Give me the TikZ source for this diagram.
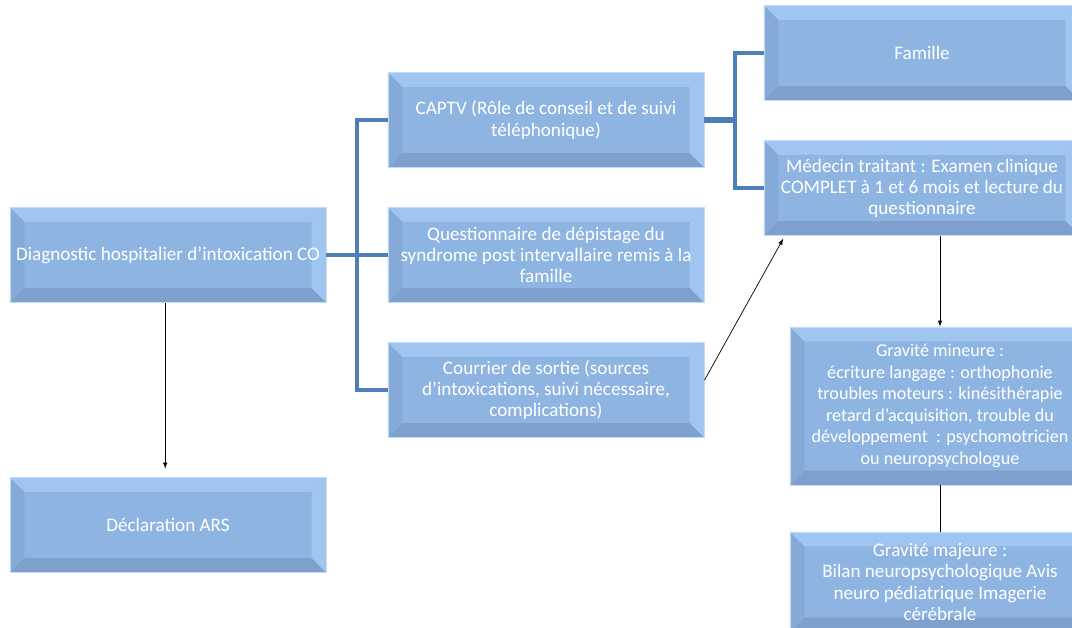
\documentclass[tikz,border=0pt]{standalone}
\usepackage{fontspec}
\setmainfont{Carlito}
\usetikzlibrary{arrows}
\usetikzlibrary{calc}
\usetikzlibrary{positioning}
\definecolor{boxfill}{RGB}{142,180,226}
\definecolor{boxlight}{RGB}{160,197,240}
\definecolor{boxdark}{RGB}{125,160,205}
\definecolor{boxmid}{RGB}{133,170,216}
\definecolor{busblue}{RGB}{79,127,184}
\newcommand{\bevelw}{0.36cm}

\begin{document}
\begin{tikzpicture}[
  x=0.025cm, y=-0.025cm,
  > = latex,
  box/.style = {rectangle, fill=boxfill, draw=boxlight!60!white, line width=0.6pt,
    text=white, align=center, inner sep=2pt,
    font=\fontsize{13.6}{15}\selectfont,
    path picture={
      \fill[boxlight] (path picture bounding box.north west) -- (path picture bounding box.north east)
        -- ([shift={(-\bevelw,-\bevelw)}]path picture bounding box.north east)
        -- ([shift={(\bevelw,-\bevelw)}]path picture bounding box.north west) -- cycle;
      \fill[boxdark] (path picture bounding box.south west) -- (path picture bounding box.south east)
        -- ([shift={(-\bevelw,\bevelw)}]path picture bounding box.south east)
        -- ([shift={(\bevelw,\bevelw)}]path picture bounding box.south west) -- cycle;
      \fill[boxmid] (path picture bounding box.north west) -- (path picture bounding box.south west)
        -- ([shift={(\bevelw,\bevelw)}]path picture bounding box.south west)
        -- ([shift={(\bevelw,-\bevelw)}]path picture bounding box.north west) -- cycle;
      \fill[boxlight] (path picture bounding box.north east) -- (path picture bounding box.south east)
        -- ([shift={(-\bevelw,\bevelw)}]path picture bounding box.south east)
        -- ([shift={(-\bevelw,-\bevelw)}]path picture bounding box.north east) -- cycle;
    }},
  wide/.style = {box, minimum width=7.9cm, minimum height=2.375cm},
  side/.style = {box, minimum width=7.5cm},
  bus/.style = {draw=busblue, line width=2.6pt},
  link/.style = {draw=black, line width=0.5pt}
  ]
	\useasboundingbox (0,0) rectangle (1072,627);

	% colonne de gauche
	\node[wide] (diag) at (168,255) {Diagnostic hospitalier d’intoxication CO};
	\node[wide] (ars) at (168,525) {Déclaration ARS};

	% colonne du milieu
	\node[wide] (captv) at (546,120) {CAPTV (Rôle de conseil et de suivi\\ téléphonique)};
	\node[wide] (quest) at (546,255) {Questionnaire de dépistage du\\ syndrome post intervallaire remis à la\\ famille};
	\node[wide] (courrier) at (546,390) {Courrier de sortie (sources\\ d’intoxications, suivi nécessaire,\\ complications)};

	% colonne de droite
	\node[wide] (famille) at (922,53) {Famille};
	\node[wide] (medecin) at (922,188) {Médecin traitant : Examen clinique\\ COMPLET à 1 et 6 mois et lecture du\\ questionnaire};
	\node[side, minimum height=3.95cm, font=\fontsize{12.9}{15.3}\selectfont] (mineure) at (940,406) {Gravité mineure :\\ écriture langage : orthophonie\\ troubles moteurs : kinésithérapie\\ retard d’acquisition, trouble du\\ développement~ : psychomotricien\\ ou neuropsychologue};
	\node[side, minimum height=2.5cm] (majeure) at (940,582) {Gravité majeure :\\ Bilan neuropsychologique Avis\\ neuro pédiatrique Imagerie\\ cérébrale};

	\coordinate (@1) at (357,255);
	\coordinate (@2) at (735,120);

	\draw[bus] (diag.east) -- (@1);
	\draw[bus] (captv.west) -| (@1) |- (courrier.west);
	\draw[bus] (@1) -- (quest.west);
	\draw[bus, line width=4pt] (captv.east) -- (@2);
	\draw[bus] (famille.west) -| (@2) |- (medecin.west);

	\draw[link,->] ([xshift=-2pt]diag.south) -- ([xshift=-2pt,yshift=6pt]ars.north);
	\draw[link,->] ([yshift=7pt]courrier.east) -- ([xshift=14pt,yshift=-2pt]medecin.south west);
	\draw[link,->] (medecin.south -| mineure.north) -- (mineure.north);
	\draw[link] (mineure.south) -- (majeure.north);

\end{tikzpicture}
\end{document}
